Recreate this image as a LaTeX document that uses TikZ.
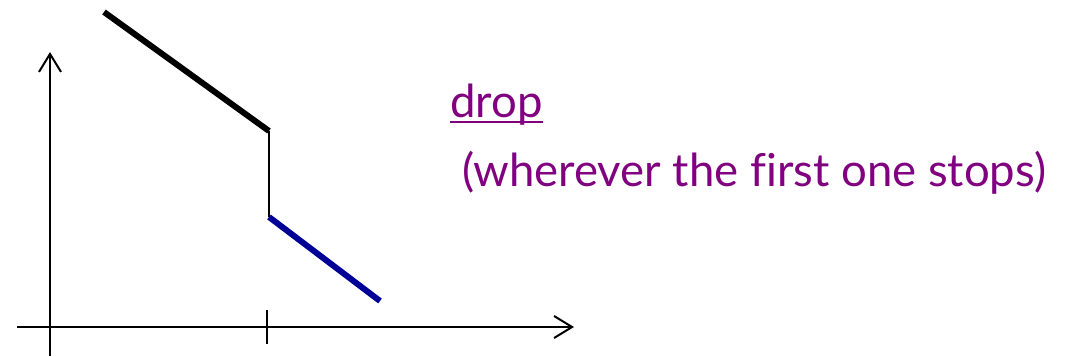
\documentclass[tikz,border=0pt]{standalone}
\usepackage{fontspec}
\setmainfont[Ligatures=NoCommon]{Lato}
\usetikzlibrary{arrows.meta}
\definecolor{lblue}{RGB}{0,0,150}
\definecolor{lpurple}{RGB}{128,0,128}
\tikzset{
  axis/.style={line width=2pt, -{Straight Barb[length=18pt,width=22pt,line width=2pt]}},
  thick line/.style={line width=6pt},
  label text/.style={text=lpurple, font=\fontsize{45.5}{52}\selectfont, inner sep=0pt, anchor=base west}
}
\begin{document}
\begin{tikzpicture}[x=1pt,y=-1pt]
\useasboundingbox (0,0) rectangle (1068,356);
\coordinate (ybot) at (50,356);
\coordinate (ytop) at (50,52);
\coordinate (xleft) at (17,327);
\coordinate (xright) at (574,327);
\coordinate (ticktop) at (267,310);
\coordinate (tickbot) at (267,344);
\coordinate (a1) at (104,12);
\coordinate (a2) at (269,131);
\coordinate (b1) at (269,217);
\coordinate (b2) at (380,301);
\draw[axis] (ybot) -- (ytop);
\draw[axis] (xleft) -- (xright);
\draw[line width=2pt] (ticktop) -- (tickbot);
\draw[thick line] (a1) -- (a2);
\draw[line width=2pt] (a2) -- (b1);
\draw[thick line, lblue] (b1) -- (b2);
\node[label text] (drop) at (450,117) {drop};
\draw[lpurple, line width=1.5pt] ([yshift=-5pt]drop.base west) -- ([yshift=-5pt]drop.base east);
\node[label text] (note) at (462,186) {(wherever the first one stops)};
\end{tikzpicture}
\end{document}
